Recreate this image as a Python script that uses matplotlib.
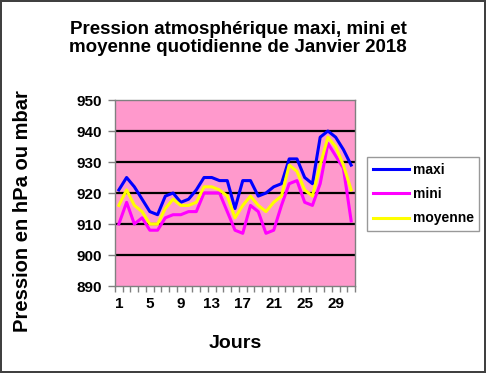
import numpy as np
import matplotlib
matplotlib.use("Agg")
import matplotlib.pyplot as plt

plt.rcParams['font.family'] = ['Liberation Sans', 'DejaVu Sans']
plt.rcParams['font.weight'] = 'bold'

# Données
jours = list(range(1, 32))
maxi = [921, 925, 922, 918, 914, 913, 919, 920, 917, 918, 921, 925, 925, 924, 924, 915,
        924, 924, 919, 920, 922, 923, 931, 931, 925, 923, 938, 940, 938, 934, 929]
mini = [910, 917, 910, 912, 908, 908, 912, 913, 913, 914, 914, 920, 920, 920, 914, 908,
        907, 916, 914, 907, 908, 916, 923, 924, 917, 916, 923, 936, 932, 928, 911]
moyenne = [916, 921, 916, 914, 910, 910, 915, 918, 916, 916, 917, 922, 922, 921, 919, 912,
           916, 919, 916, 914, 917, 919, 929, 927, 921, 919, 929, 938, 935, 929, 921]
y_ticks = [890, 900, 910, 920, 930, 940, 950]
x_labels = [1, 5, 9, 13, 17, 21, 25, 29]

fig = plt.figure(figsize=(4.86, 3.73), dpi=100, edgecolor='#404040', linewidth=1.5)
ax = fig.add_axes([0.2366, 0.2332, 0.4939, 0.4987])
ax.set_facecolor('#FF99CC')

# Lignes horizontales de la grille
for v in y_ticks[1:-1]:
    ax.axhline(v, color='black', linewidth=1.6, zorder=1)

ax.plot(jours, maxi, color='#0000FF', linewidth=2.2, label='maxi', zorder=3)
ax.plot(jours, mini, color='#FF00FF', linewidth=2.2, label='mini', zorder=3)
ax.plot(jours, moyenne, color='#FFFF00', linewidth=2.2, label='moyenne', zorder=3)

ax.set_xlim(0.5, 31.5)
ax.set_ylim(890, 950)
ax.set_yticks(y_ticks)
ax.set_yticklabels([str(v) for v in y_ticks], fontsize=11, fontweight='bold')
ax.set_xticks(x_labels)
ax.set_xticklabels([str(v) for v in x_labels], fontsize=11, fontweight='bold')
ax.set_xticks(np.arange(0.5, 32, 1), minor=True)
ax.tick_params(axis='x', which='major', length=0, pad=8)
ax.tick_params(axis='x', which='minor', length=4, color='#808080', width=1)
ax.tick_params(axis='y', length=5, color='#808080', width=1, pad=4)

for s in ax.spines.values():
    s.set_color('#808080')
    s.set_linewidth(1)

ax.set_xlabel('Jours', fontsize=14, fontweight='bold', labelpad=17)
ax.set_ylabel('Pression en hPa ou mbar', fontsize=14.5, fontweight='bold')
ax.yaxis.set_label_coords(-0.345, 0.405)

fig.text(0.49, 0.945, 'Pression atmosphérique maxi, mini et\nmoyenne quotidienne de Janvier 2018',
         ha='center', va='top', fontsize=13.5, fontweight='bold', linespacing=1.12)

leg = ax.legend(loc='upper left', bbox_to_anchor=(367 / 486, 1 - 157 / 373),
                bbox_transform=fig.transFigure, borderaxespad=0, fontsize=10,
                frameon=True, fancybox=False, edgecolor='#808080', handlelength=2.6,
                handletextpad=0.3, labelspacing=0.75, borderpad=0.4)
leg.get_frame().set_linewidth(1)
for t in leg.get_texts():
    t.set_fontweight('bold')

fig.savefig('out.png', dpi=100)
